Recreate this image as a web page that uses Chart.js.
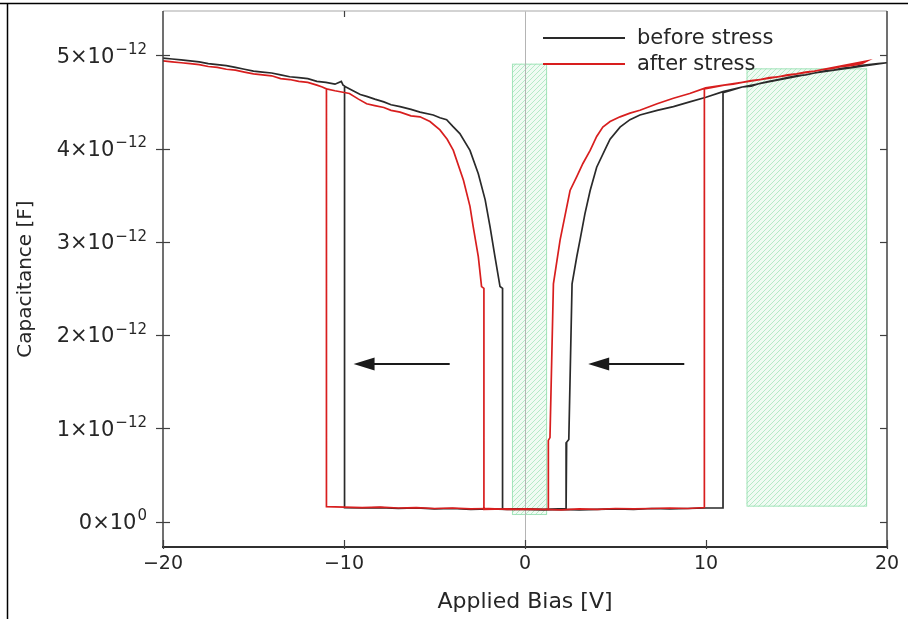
<!DOCTYPE html>
<html>
<head>
<meta charset="utf-8">
<script src="https://cdn.jsdelivr.net/npm/chart.js@4.4.1/dist/chart.umd.min.js"></script>
<style>
  html, body { margin: 0; padding: 0; background: #fff; }
  #wrap { width: 908px; height: 619px; position: relative; }
</style>
</head>
<body>
<div id="wrap"><canvas id="c" width="908" height="619"></canvas></div>
<script>
// ---- data (capacitance in units of 1e-12 F, bias in V) ----
const seriesNames = ['before stress', 'after stress'];

const beforeV = [
  -20, -19.5, -19, -18.5, -18, -17.5, -17, -16.5, -16, -15.5, -15, -14.5, -14, -13.5, -13, -12.5, -12, -11.5, -11, -10.5, -10.15, -10.05, -9.97,
  -9.97, -9, -8, -7, -6, -5, -4, -3, -2, -1, 0, 1, 2, 3, 4, 5, 6, 7, 8, 9, 10, 10.94,
  10.94, 11.5, 12, 12.5, 13, 13.5, 14, 14.5, 15, 15.5, 16, 16.5, 17, 17.5, 18, 18.5, 19, 19.5, 20,
  16, 12, 10.94, 10, 9.1, 8.2, 7.3, 6.35, 5.8, 5.25, 4.7, 4.5, 3.96, 3.6, 3.31, 3.04, 2.86, 2.6,
  2.42, 2.3, 2.27, 1, 0, -1.24,
  -1.24, -1.38, -1.66, -1.93, -2.2, -2.58, -3.04, -3.6, -4.0, -4.33, -4.7, -5.07, -5.8, -6.3, -6.9, -7.4, -7.8, -8.3, -8.75, -9.1, -9.5, -10
];
const beforeC = [
  4.97, 4.96, 4.95, 4.94, 4.93, 4.91, 4.90, 4.89, 4.87, 4.85, 4.83, 4.82, 4.81, 4.79, 4.77, 4.76, 4.75, 4.72, 4.71, 4.69, 4.72, 4.68, 4.67,
  0.15, 0.145, 0.15, 0.14, 0.145, 0.135, 0.14, 0.13, 0.135, 0.13, 0.13, 0.125, 0.13, 0.125, 0.13, 0.135, 0.13, 0.14, 0.135, 0.14, 0.145, 0.145,
  4.60, 4.63, 4.66, 4.67, 4.70, 4.72, 4.74, 4.76, 4.78, 4.79, 4.81, 4.83, 4.84, 4.86, 4.87, 4.89, 4.90, 4.91, 4.92,
  4.81, 4.66, 4.61, 4.55, 4.50, 4.45, 4.41, 4.36, 4.31, 4.23, 4.10, 4.02, 3.80, 3.55, 3.30, 3.02, 2.84, 2.55,
  0.88, 0.85, 0.14, 0.13, 0.135, 0.14,
  2.50, 2.52, 2.84, 3.16, 3.45, 3.73, 3.98, 4.16, 4.24, 4.31, 4.33, 4.36, 4.39, 4.42, 4.45, 4.47, 4.50, 4.53, 4.56, 4.58, 4.62, 4.67
];

const afterV = [
  -20, -19.5, -19, -18.5, -18, -17.5, -17, -16.5, -16, -15.5, -15, -14.5, -14, -13.5, -13, -12.5, -12, -11.5, -11.2, -10.97,
  -10.97, -10, -9, -8, -7, -6, -5, -4, -3, -2, -1, 0, 1, 2, 3, 4, 5, 6, 7, 8, 9, 9.91,
  9.91, 10.5, 11, 11.5, 12, 12.5, 13, 13.5, 14, 14.5, 15, 15.5, 16, 16.5, 17, 17.5, 18, 18.6, 18.9,
  16, 12, 9.98, 9.1, 8.2, 7.3, 6.35, 5.8, 5.25, 4.7, 4.3, 3.96, 3.6, 3.2, 2.86, 2.49, 1.94, 1.57,
  1.38, 1.29, 1.29, 0, -1, -2.27,
  -2.27, -2.4, -2.58, -2.86, -3.04, -3.4, -3.96, -4.3, -4.7, -5.25, -5.8, -6.3, -6.9, -7.4, -7.8, -8.3, -8.75, -9.2, -9.7, -10.5, -10.97
];
const afterC = [
  4.94, 4.93, 4.92, 4.91, 4.90, 4.88, 4.87, 4.85, 4.84, 4.82, 4.80, 4.79, 4.78, 4.75, 4.74, 4.72, 4.71, 4.68, 4.66, 4.64,
  0.16, 0.155, 0.15, 0.155, 0.145, 0.15, 0.14, 0.145, 0.135, 0.14, 0.13, 0.135, 0.13, 0.125, 0.135, 0.13, 0.14, 0.135, 0.14, 0.145, 0.14, 0.15,
  4.64, 4.66, 4.68, 4.69, 4.71, 4.73, 4.74, 4.76, 4.77, 4.79, 4.80, 4.82, 4.83, 4.85, 4.86, 4.88, 4.89, 4.91, 4.94,
  4.83, 4.71, 4.65, 4.59, 4.54, 4.48, 4.41, 4.38, 4.34, 4.29, 4.23, 4.13, 3.98, 3.84, 3.70, 3.55, 3.02, 2.55,
  0.90, 0.87, 0.13, 0.13, 0.135, 0.13,
  2.50, 2.52, 2.84, 3.16, 3.38, 3.66, 3.98, 4.10, 4.20, 4.29, 4.34, 4.35, 4.39, 4.41, 4.44, 4.46, 4.48, 4.53, 4.59, 4.62, 4.64
];

const xTicks = [-20, -10, 0, 10, 20];
const yTicks = [0, 1, 2, 3, 4, 5];
const yTickMain = ['0\u00d710', '1\u00d710', '2\u00d710', '3\u00d710', '4\u00d710', '5\u00d710'];
const yTickExp = ['0', '\u221212', '\u221212', '\u221212', '\u221212', '\u221212'];
const xRange = [-20, 20];
const yRange = [-0.273, 5.475];

// hatched regions: [xStart, xEnd, yBottom, yTop]
const region1 = [-0.72, 1.22, 0.07, 4.91];
const region2 = [12.24, 18.9, 0.16, 4.86];
// arrows: [tailX, tipX, y]
const arrowLeft = [-4.16, -9.47, 1.69];
const arrowRight = [8.8, 3.49, 1.69];

// ---- build ----
const toPts = (xs, ys) => xs.map((v, i) => ({ x: v, y: ys[i] }));
const FONT = 'DejaVu Sans';
const TXT = '#262626';

function hatchPattern(ctx) {
  const p = document.createElement('canvas');
  p.width = 5; p.height = 5;
  const g = p.getContext('2d');
  g.strokeStyle = 'rgba(80,205,125,0.36)';
  g.lineWidth = 1;
  g.beginPath();
  g.moveTo(0, 5); g.lineTo(5, 0);
  g.moveTo(-1, 1); g.lineTo(1, -1);
  g.moveTo(4, 6); g.lineTo(6, 4);
  g.stroke();
  return ctx.createPattern(p, 'repeat');
}

const decor = {
  id: 'decor',
  beforeDatasetsDraw(chart) {
    const { ctx, chartArea: a, scales: { x, y } } = chart;
    ctx.save();
    const pat = hatchPattern(ctx);
    [region1, region2].forEach(r => {
      const x0 = x.getPixelForValue(r[0]), x1 = x.getPixelForValue(r[1]);
      const y0 = y.getPixelForValue(r[3]), y1 = y.getPixelForValue(r[2]);
      ctx.fillStyle = 'rgba(205,242,215,0.3)';
      ctx.fillRect(x0, y0, x1 - x0, y1 - y0);
      ctx.fillStyle = pat;
      ctx.fillRect(x0, y0, x1 - x0, y1 - y0);
      ctx.strokeStyle = 'rgba(150,225,178,0.85)';
      ctx.lineWidth = 1;
      ctx.strokeRect(x0 + 0.5, y0 + 0.5, x1 - x0 - 1, y1 - y0 - 1);
    });
    const zx = Math.round(x.getPixelForValue(0)) + 0.5;
    ctx.strokeStyle = '#b4b4b4';
    ctx.lineWidth = 1;
    ctx.beginPath(); ctx.moveTo(zx, a.top); ctx.lineTo(zx, a.bottom); ctx.stroke();
    ctx.restore();
  },
  afterDatasetsDraw(chart) {
    const { ctx, chartArea: a, scales: { x, y } } = chart;
    ctx.save();
    // arrows
    [arrowLeft, arrowRight].forEach(ar => {
      const tx = x.getPixelForValue(ar[0]), hx = x.getPixelForValue(ar[1]);
      const py = y.getPixelForValue(ar[2]);
      const hl = 21, hw = 6.5;
      ctx.strokeStyle = '#1a1a1a';
      ctx.fillStyle = '#1a1a1a';
      ctx.lineWidth = 2;
      ctx.beginPath(); ctx.moveTo(tx, py); ctx.lineTo(hx + hl - 2, py); ctx.stroke();
      ctx.beginPath();
      ctx.moveTo(hx, py); ctx.lineTo(hx + hl, py - hw); ctx.lineTo(hx + hl, py + hw);
      ctx.closePath(); ctx.fill();
    });
    // axes frame
    ctx.lineWidth = 1.5;
    ctx.strokeStyle = '#c4c4c4';
    ctx.beginPath(); ctx.moveTo(a.left, a.top); ctx.lineTo(a.right, a.top); ctx.stroke();
    ctx.strokeStyle = '#404040';
    ctx.beginPath(); ctx.moveTo(a.left, a.top); ctx.lineTo(a.left, a.bottom); ctx.stroke();
    ctx.beginPath(); ctx.moveTo(a.right, a.top); ctx.lineTo(a.right, a.bottom + 1); ctx.stroke();
    ctx.lineWidth = 2;
    ctx.strokeStyle = '#303030';
    ctx.beginPath(); ctx.moveTo(a.left - 1, a.bottom); ctx.lineTo(a.right + 1, a.bottom); ctx.stroke();
    // ticks
    ctx.lineWidth = 1.2;
    ctx.strokeStyle = '#404040';
    y.ticks.forEach(t => {
      const py = Math.round(y.getPixelForValue(t.value)) + 0.5;
      ctx.beginPath(); ctx.moveTo(a.left - 7, py); ctx.lineTo(a.left + 7, py); ctx.stroke();
      ctx.beginPath(); ctx.moveTo(a.right - 7, py); ctx.lineTo(a.right, py); ctx.stroke();
    });
    x.ticks.forEach(t => {
      const px = Math.round(x.getPixelForValue(t.value)) + 0.5;
      ctx.beginPath(); ctx.moveTo(px, a.bottom - 7); ctx.lineTo(px, a.bottom + 2); ctx.stroke();
    });
    const tpx = Math.round(x.getPixelForValue(-10)) + 0.5;
    ctx.beginPath(); ctx.moveTo(tpx, a.top); ctx.lineTo(tpx, a.top + 6); ctx.stroke();
    // y tick labels with exponent
    ctx.fillStyle = TXT;
    ctx.textBaseline = 'middle';
    ctx.textAlign = 'left';
    y.ticks.forEach(t => {
      const idx = yTicks.indexOf(t.value);
      const main = yTickMain[idx], exp = yTickExp[idx];
      const py = y.getPixelForValue(t.value) + 2;
      ctx.font = '21px ' + FONT;
      const wm = ctx.measureText(main).width;
      ctx.font = '15px ' + FONT;
      const we = ctx.measureText(exp).width;
      const x0 = a.left - 16 - we - wm - 1;
      ctx.font = '21px ' + FONT;
      ctx.fillText(main, x0, py);
      ctx.font = '15px ' + FONT;
      ctx.fillText(exp, x0 + wm + 1, py - 7);
    });
    // legend
    const ds = chart.data.datasets;
    ctx.font = '21px ' + FONT;
    ctx.textBaseline = 'middle';
    ds.forEach((d, i) => {
      const ly = a.top + 27 + i * 26;
      ctx.strokeStyle = d.borderColor;
      ctx.lineWidth = 1.8;
      ctx.beginPath(); ctx.moveTo(a.left + 380, ly); ctx.lineTo(a.left + 462, ly); ctx.stroke();
      ctx.fillStyle = TXT;
      ctx.fillText(d.label, a.left + 474, ly + 1);
    });
    // outer figure frame
    ctx.strokeStyle = '#000';
    ctx.lineWidth = 1.5;
    ctx.beginPath(); ctx.moveTo(0, 3.5); ctx.lineTo(chart.width, 3.5); ctx.stroke();
    ctx.beginPath(); ctx.moveTo(7.5, 3); ctx.lineTo(7.5, chart.height); ctx.stroke();
    ctx.restore();
  }
};

new Chart(document.getElementById('c'), {
  type: 'scatter',
  data: {
    datasets: [
      { label: seriesNames[0], data: toPts(beforeV, beforeC), showLine: true, borderColor: '#2a2a2a',
        borderWidth: 1.7, pointRadius: 0, tension: 0, order: 2 },
      { label: seriesNames[1], data: toPts(afterV, afterC), showLine: true, borderColor: '#d81e1e',
        borderWidth: 1.7, pointRadius: 0, tension: 0, order: 1 }
    ]
  },
  options: {
    responsive: false,
    animation: false,
    layout: { padding: { top: 11, right: 21, left: 0, bottom: 0 } },
    plugins: { legend: { display: false }, tooltip: { enabled: false } },
    scales: {
      x: {
        type: 'linear', min: xRange[0], max: xRange[1],
        afterBuildTicks: s => { s.ticks = xTicks.map(v => ({ value: v })); },
        afterFit: s => { s.height = 72; },
        grid: { display: false, drawTicks: false, tickLength: 0 },
        border: { display: false },
        ticks: {
          font: { family: FONT, size: 19 }, color: TXT, padding: 6, maxRotation: 0,
          callback: v => (v < 0 ? '\u2212' : '') + Math.abs(v)
        },
        title: { display: true, text: 'Applied Bias [V]', font: { family: FONT, size: 22 }, color: TXT,
          padding: { top: 0, bottom: 4 } }
      },
      y: {
        type: 'linear', min: yRange[0], max: yRange[1],
        afterBuildTicks: s => { s.ticks = yTicks.map(v => ({ value: v })); },
        afterFit: s => { s.width = 163; s.paddingTop = 0; s.paddingBottom = 0; },
        grid: { display: false, drawTicks: false, tickLength: 0 },
        border: { display: false },
        ticks: { display: false },
        title: { display: true, text: 'Capacitance [F]', font: { family: FONT, size: 20 }, color: TXT,
          padding: { top: 14, bottom: 4 } }
      }
    }
  },
  plugins: [decor]
});
</script>
</body>
</html>
